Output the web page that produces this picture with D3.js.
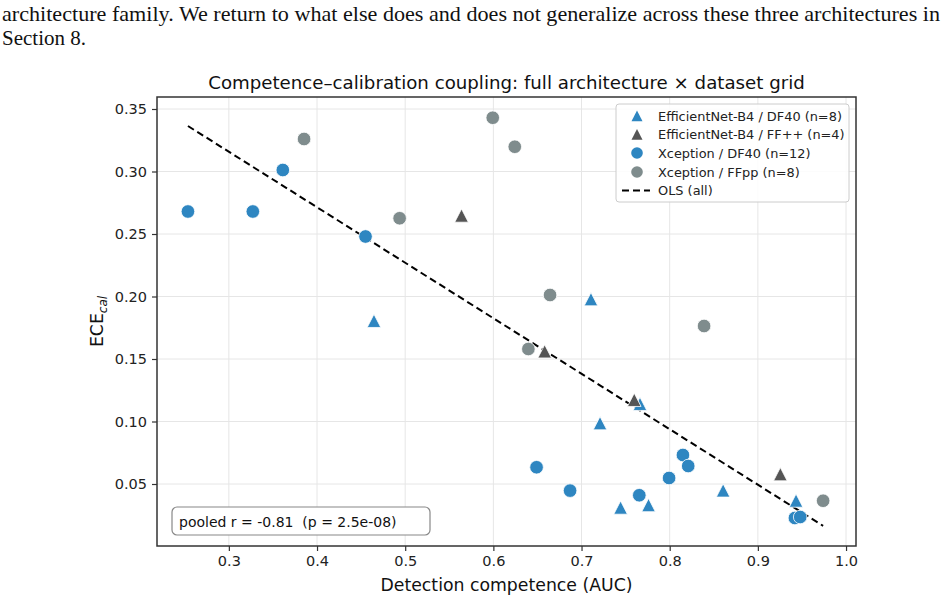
<!DOCTYPE html>
<html><head><meta charset="utf-8">
<script src="https://cdn.jsdelivr.net/npm/d3@7"></script>
<style>body{margin:0;background:#fff;} svg{display:block;}</style>
</head><body>
<svg id="c" width="948" height="600"></svg>
<script>
// ---- data ----
const effDf40X = [0.4646, 0.7107, 0.721, 0.7663, 0.7443, 0.776, 0.8606, 0.9433];
const effDf40Y = [0.1804, 0.1977, 0.0985, 0.114, 0.031, 0.033, 0.0447, 0.0366];
const effFfX = [0.5639, 0.6582, 0.7598, 0.9255];
const effFfY = [0.2646, 0.156, 0.1172, 0.0577];
const xcpDf40X = [0.2536, 0.3272, 0.3612, 0.455, 0.649, 0.687, 0.7655, 0.7993, 0.815, 0.821, 0.942, 0.948];
const xcpDf40Y = [0.268, 0.268, 0.3012, 0.248, 0.0634, 0.0447, 0.041, 0.0548, 0.0732, 0.0644, 0.0228, 0.0236];
const xcpFfX = [0.3853, 0.4937, 0.5993, 0.6243, 0.6643, 0.839, 0.974, 0.6397];
const xcpFfY = [0.326, 0.2626, 0.343, 0.3198, 0.2012, 0.1764, 0.0366, 0.158];
const olsSlope = -0.444, olsIntercept = 0.449;
const xTicks = [0.3, 0.4, 0.5, 0.6, 0.7, 0.8, 0.9, 1.0];
const yTicks = [0.05, 0.10, 0.15, 0.20, 0.25, 0.30, 0.35];
const seriesNames = ["EfficientNet-B4 / DF40 (n=8)", "EfficientNet-B4 / FF++ (n=4)", "Xception / DF40 (n=12)", "Xception / FFpp (n=8)"];

const svg = d3.select("#c");
const L = 157, R = 856, T = 97, B = 546;
const x = d3.scaleLinear().domain([0.2185, 1.0113]).range([L, R]);
const y = d3.scaleLinear().domain([0, 0.3596]).range([B + 0.5, T]);

// header text
svg.append("text").attr("x", 2).attr("y", 21).attr("font-family", "Liberation Serif").attr("font-size", 21).attr("fill", "#111")
  .attr("textLength", 938).attr("lengthAdjust", "spacingAndGlyphs")
  .text("architecture family. We return to what else does and does not generalize across these three architectures in");
svg.append("text").attr("x", 2).attr("y", 45).attr("font-family", "Liberation Serif").attr("font-size", 21).attr("fill", "#111")
  .text("Section 8.");

const font = "DejaVu Sans";
// grid
const g = svg.append("g");
g.selectAll(".gx").data(xTicks).join("line").attr("x1", d => x(d)).attr("x2", d => x(d)).attr("y1", T).attr("y2", B)
  .attr("stroke", "#e6e6e6").attr("stroke-width", 1);
g.selectAll(".gy").data(yTicks).join("line").attr("y1", d => y(d)).attr("y2", d => y(d)).attr("x1", L).attr("x2", R)
  .attr("stroke", "#e6e6e6").attr("stroke-width", 1);

// axes
const xAxis = d3.axisBottom(x).tickValues(xTicks).tickFormat(d3.format(".1f")).tickSizeOuter(0).tickSize(5).tickPadding(5);
const yAxis = d3.axisLeft(y).tickValues(yTicks).tickFormat(d3.format(".2f")).tickSizeOuter(0).tickSize(5).tickPadding(5);
const ax = svg.append("g").attr("transform", `translate(0,${B})`).call(xAxis);
const ay = svg.append("g").attr("transform", `translate(${L},0)`).call(yAxis);
[ax, ay].forEach(a => {
  a.select(".domain").remove();
  a.selectAll("line").attr("stroke", "#333").attr("stroke-width", 1.2);
  a.selectAll("text").attr("font-family", font).attr("font-size", 14.5).attr("fill", "#222");
});

// OLS line
const allX = [...effDf40X, ...effFfX, ...xcpDf40X, ...xcpFfX];
const xmin = d3.min(allX), xmax = d3.max(allX);
const ols = d3.line().x(d => x(d)).y(d => y(olsIntercept + olsSlope * d));
svg.append("path").attr("d", ols([xmin, xmax])).attr("fill", "none").attr("stroke", "#000")
  .attr("stroke-width", 2).attr("stroke-dasharray", "7,4");

const cBlue = "#2e86c1", cDark = "#555555", cGray = "#7f8c8d";
function triPath(cx, cy, s) { // matplotlib-style triangle centered on bbox
  return `M${cx},${cy - s}L${cx + s},${cy + s * 0.95}L${cx - s},${cy + s * 0.95}Z`;
}
function drawCircles(xs, ys, col) {
  svg.append("g").selectAll("circle").data(xs).join("circle")
    .attr("cx", d => x(d)).attr("cy", (d, i) => y(ys[i])).attr("r", 6.8)
    .attr("fill", col).attr("stroke", "#fff").attr("stroke-width", 0.8);
}
function drawTris(xs, ys, col) {
  svg.append("g").selectAll("path").data(xs).join("path")
    .attr("d", (d, i) => triPath(x(d), y(ys[i]), 6.8))
    .attr("fill", col).attr("stroke", "#fff").attr("stroke-width", 0.8);
}
drawTris(effDf40X, effDf40Y, cBlue);
drawTris(effFfX, effFfY, cDark);
drawCircles(xcpDf40X, xcpDf40Y, cBlue);
drawCircles(xcpFfX, xcpFfY, cGray);

// spines
svg.append("rect").attr("x", L).attr("y", T).attr("width", R - L).attr("height", B - T)
  .attr("fill", "none").attr("stroke", "#333").attr("stroke-width", 1.5);

// title
svg.append("text").attr("x", (L + R) / 2).attr("y", 89).attr("text-anchor", "middle")
  .attr("font-family", font).attr("font-size", 18.2).attr("fill", "#111")
  .text("Competence\u2013calibration coupling: full architecture \u00d7 dataset grid");
// x label
svg.append("text").attr("x", (L + R) / 2).attr("y", 591).attr("text-anchor", "middle")
  .attr("font-family", font).attr("font-size", 17.3).attr("fill", "#111").text("Detection competence (AUC)");
// y label
const yl = svg.append("text").attr("transform", `translate(103,${(T + B) / 2}) rotate(-90)`).attr("text-anchor", "middle")
  .attr("font-family", font).attr("font-size", 17.3).attr("fill", "#111");
yl.append("tspan").text("ECE");
yl.append("tspan").attr("font-size", 12).attr("font-style", "italic").attr("dy", 4).text("cal");

// legend
const lg = svg.append("g");
lg.append("rect").attr("x", 616).attr("y", 104).attr("width", 233).attr("height", 98).attr("rx", 3)
  .attr("fill", "#fff").attr("fill-opacity", 0.85).attr("stroke", "#ccc").attr("stroke-width", 1);
const ly = [116, 134.5, 153, 172, 190.5];
const lcols = [cBlue, cDark, cBlue, cGray];
seriesNames.forEach((n, i) => {
  if (i < 2) lg.append("path").attr("d", triPath(637, ly[i], 5.5)).attr("fill", lcols[i]);
  else lg.append("circle").attr("cx", 637).attr("cy", ly[i]).attr("r", 5.8).attr("fill", lcols[i]);
  lg.append("text").attr("x", 658).attr("y", ly[i] + 4.5).attr("font-family", font).attr("font-size", 12.9).attr("fill", "#222").text(n);
});
lg.append("line").attr("x1", 622).attr("x2", 650).attr("y1", ly[4]).attr("y2", ly[4]).attr("stroke", "#000")
  .attr("stroke-width", 2).attr("stroke-dasharray", "7,4");
lg.append("text").attr("x", 658).attr("y", ly[4] + 4.5).attr("font-family", font).attr("font-size", 12.9).attr("fill", "#222").text("OLS (all)");

// annotation
svg.append("rect").attr("x", 172).attr("y", 507).attr("width", 258).attr("height", 28).attr("rx", 5)
  .attr("fill", "#fff").attr("stroke", "#888").attr("stroke-width", 1.2);
svg.append("text").attr("x", 179).attr("y", 526.5).attr("font-family", font).attr("font-size", 14).attr("fill", "#111")
  .attr("xml:space", "preserve").text("pooled r = -0.81  (p = 2.5e-08)");
</script>
</body></html>
